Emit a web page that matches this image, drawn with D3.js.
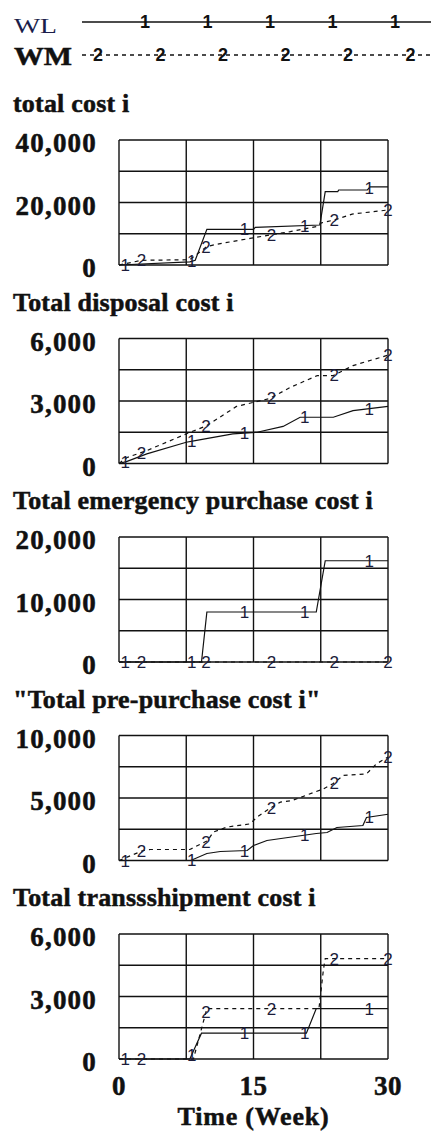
<!DOCTYPE html>
<html>
<head>
<meta charset="utf-8">
<script src="https://cdn.jsdelivr.net/npm/d3@7"></script>
<style>
  html, body { margin: 0; padding: 0; background: #fff; }
  svg { display: block; }
</style>
</head>
<body>
<svg width="431" height="1135"></svg>
<script>
// Data: [week, value] break points
const seriesNames = ['WL', 'WM'];
const panelTitles = [
  'total cost i',
  'Total disposal cost i',
  'Total emergency purchase cost i',
  '"Total pre-purchase cost i"',
  'Total transsshipment cost i'
];
const panelMax = [40000, 6000, 20000, 10000, 6000];
const xTicks = [0, 15, 30];

const totalCostWL = [[0, 0], [7.9, 1000], [8.5, 1500], [9.8, 11400], [15, 11400], [15.2, 12060], [22.4, 12800], [23, 23460], [24.4, 23500], [24.5, 24000], [27.7, 24000], [28, 25000], [30, 25000]];
const totalCostWM = [[0, 0], [2.5, 1500], [7.9, 1700], [9.8, 5900], [11, 6700], [14.6, 8500], [16.8, 9600], [19.1, 10700], [22, 12300], [22.6, 13500], [24, 14400], [26, 16300], [30, 17600]];

const disposalWL = [[0, 0], [0.9, 100], [3.1, 460], [7.5, 1020], [8.5, 1100], [12.7, 1420], [15.4, 1500], [18.3, 1780], [20.2, 2220], [23.9, 2220], [26.1, 2540], [30, 2740]];
const disposalWM = [[0, 0], [0.9, 290], [3.1, 620], [7.6, 1440], [9.8, 1820], [13.1, 2740], [16.8, 3120], [19.1, 3650], [22.1, 4220], [23.9, 4220], [26.1, 4700], [30, 5200]];

const emergencyWL = [[0, 0], [9.2, 0], [9.8, 8000], [22, 8000], [23, 16200], [30, 16200]];
const emergencyWM = [[0, 0], [30, 0]];

const prePurchaseWL = [[0, 0], [8, 0], [9.8, 560], [11.3, 720], [14.3, 800], [15, 1200], [16.5, 1600], [22, 2160], [23.2, 2240], [24.3, 2640], [27.2, 2800], [27.6, 3440], [30, 3700]];
const prePurchaseWM = [[0, 0], [0.9, 270], [2.7, 800], [3.5, 880], [7.9, 880], [9.9, 1600], [10.5, 2270], [12, 2670], [14.6, 2930], [15.4, 3470], [16.8, 4160], [18, 4670], [19.3, 4800], [22.8, 5730], [23.9, 6160], [25, 6800], [27.6, 6930], [28.7, 7730], [30, 8270]];

const transshipWL = [[0, 0], [7.9, 0], [9.2, 1240], [20.9, 1240], [22, 2420], [30, 2420]];
const transshipWM = [[0, 0], [8.3, 0], [9.8, 2420], [22.3, 2420], [22.8, 4300], [23, 4820], [30, 4820]];

const panelSeries = [
  [totalCostWL, totalCostWM],
  [disposalWL, disposalWM],
  [emergencyWL, emergencyWM],
  [prePurchaseWL, prePurchaseWM],
  [transshipWL, transshipWM]
];

// weeks where the number labels sit on each line
const markerWeeksWL = [0.7, 8.1, 14, 20.7, 27.9];
const markerWeeksWM = [2.5, 9.7, 17, 24, 30];

// Style values
const plotLeft = 119;
const plotRight = 388;
const firstTop = 140;
const panelStep = 198.5;
const plotHeight = 125;
const ink = '#111';
const serif = '"Liberation Serif", "Times New Roman", serif';
const sans = '"Liberation Sans", Arial, sans-serif';
const dash = '4,4';

const svg = d3.select('svg');

const x = d3.scaleLinear().domain([0, 30]).range([plotLeft, plotRight]);

// value of a break-point series at week t
function valueAt(series, t) {
  const i = d3.bisector((d) => d[0]).left(series, t);
  if (i <= 0) return series[0][1];
  if (i >= series.length) return series[series.length - 1][1];
  const a = series[i - 1], b = series[i];
  return a[1] + ((t - a[0]) / (b[0] - a[0])) * (b[1] - a[1]);
}

// heavy serif text like the original
function boldSerif(sel, size, spacing) {
  return sel
    .attr('font-family', serif)
    .attr('font-weight', 'bold')
    .attr('font-size', size + 'px')
    .attr('letter-spacing', spacing + 'px')
    .attr('fill', ink)
    .attr('stroke', ink)
    .attr('stroke-width', 0.5);
}

// Legend
const legend = svg.append('g').attr('class', 'legend');
seriesNames.forEach((name, i) => {
  const ly = 22 + i * 33;
  const label = legend.append('text')
    .attr('x', 14)
    .attr('y', ly + 11)
    .attr('lengthAdjust', 'spacingAndGlyphs')
    .text(name);
  if (i === 0) {
    label
      .attr('font-family', serif)
      .attr('font-size', '20px')
      .attr('textLength', 43)
      .attr('fill', '#1b1d4a');
  } else {
    boldSerif(label, 25, 0).attr('y', ly + 10).attr('textLength', 58);
  }
  legend.append('line')
    .attr('x1', 82).attr('x2', 431)
    .attr('y1', ly).attr('y2', ly)
    .attr('stroke', ink)
    .attr('stroke-width', 1.3)
    .attr('stroke-dasharray', i === 0 ? null : dash);
  const start = i === 0 ? 145 : 98;
  d3.range(i === 0 ? 5 : 6).forEach((k) => {
    legend.append('text')
      .attr('x', start + k * 62.5)
      .attr('y', ly)
      .attr('dy', '0.36em')
      .attr('text-anchor', 'middle')
      .attr('font-family', sans)
      .attr('font-weight', 'bold')
      .attr('font-size', '18px')
      .attr('fill', ink)
      .text(i + 1);
  });
});

// Panels
panelTitles.forEach((title, p) => {
  const top = firstTop + p * panelStep;
  const y = d3.scaleLinear().domain([0, panelMax[p]]).range([top + plotHeight, top]);
  const g = svg.append('g').attr('class', 'panel');

  boldSerif(g.append('text'), 26, 0.2)
    .attr('x', 13)
    .attr('y', top - 28)
    .text(title);

  // grid
  const grid = g.append('g').attr('stroke', ink).attr('stroke-width', 1.4);
  grid.selectAll('.vgrid')
    .data(d3.range(0, 31, 7.5))
    .enter()
    .append('line')
    .attr('x1', (d) => x(d)).attr('x2', (d) => x(d))
    .attr('y1', top).attr('y2', top + plotHeight);
  grid.selectAll('.hgrid')
    .data(d3.range(0, 5).map((k) => (panelMax[p] * k) / 4))
    .enter()
    .append('line')
    .attr('x1', plotLeft).attr('x2', plotRight)
    .attr('y1', (d) => y(d)).attr('y2', (d) => y(d));

  // y labels
  boldSerif(
    g.selectAll('.ylab')
      .data([0, panelMax[p] / 2, panelMax[p]])
      .enter()
      .append('text'),
    27, 1.2
  )
    .attr('x', 97)
    .attr('y', (d) => y(d) + 3)
    .attr('dy', '0.34em')
    .attr('text-anchor', 'end')
    .text((d) => d3.format(',')(d));

  // lines
  const line = d3.line().x((d) => x(d[0])).y((d) => y(d[1]));
  panelSeries[p].forEach((series, s) => {
    g.append('path')
      .datum(series)
      .attr('d', line)
      .attr('fill', 'none')
      .attr('stroke', ink)
      .attr('stroke-width', 1.2)
      .attr('stroke-dasharray', s === 0 ? null : dash);
  });

  // number markers
  panelSeries[p].forEach((series, s) => {
    const weeks = s === 0 ? markerWeeksWL : markerWeeksWM;
    g.selectAll('.mark' + s)
      .data(weeks)
      .enter()
      .append('text')
      .attr('x', (d) => x(d))
      .attr('y', (d) => y(valueAt(series, d)))
      .attr('dy', '0.36em')
      .attr('text-anchor', 'middle')
      .attr('font-family', sans)
      .attr('font-size', '17px')
      .attr('fill', '#1c1c3a')
      .text(s + 1);
  });

  // x axis on the last panel
  if (p === panelTitles.length - 1) {
    boldSerif(
      g.selectAll('.xlab')
        .data(xTicks)
        .enter()
        .append('text'),
      27, 0.5
    )
      .attr('x', (d) => x(d))
      .attr('y', top + plotHeight + 36)
      .attr('text-anchor', 'middle')
      .text((d) => d);
    boldSerif(g.append('text'), 26, 0.8)
      .attr('x', x(15))
      .attr('y', top + plotHeight + 66)
      .attr('text-anchor', 'middle')
      .text('Time (Week)');
  }
});
</script>
</body>
</html>
